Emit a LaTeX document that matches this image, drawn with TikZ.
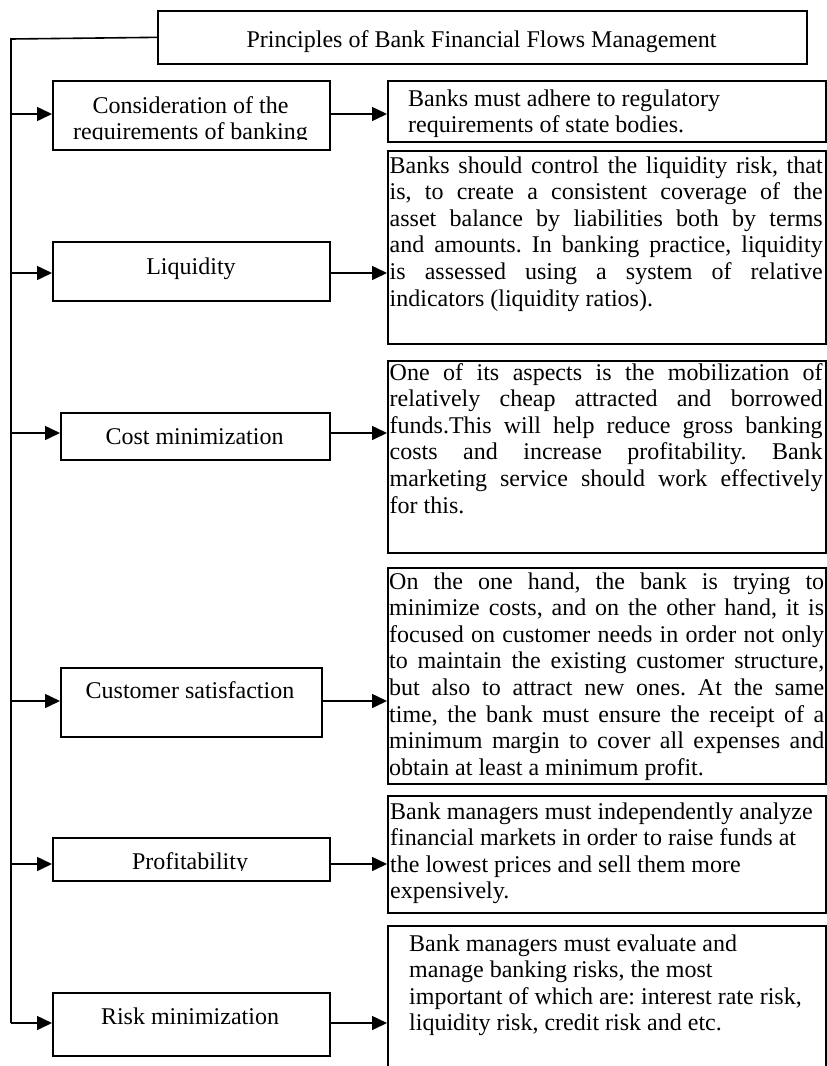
\documentclass[tikz,border=0pt]{standalone}
\usepackage{fontspec}
\setmainfont{Liberation Serif}
\usetikzlibrary{arrows.meta}
\newcommand\diagfont{\fontsize{24}{26.6}\selectfont\frenchspacing}
\begin{document}
\begin{tikzpicture}[x=1pt,y=-1pt,
  frame/.style={draw, line width=1.7pt, inner sep=0pt, anchor=north west},
  link/.style={line width=1.6pt, -{Triangle[length=15pt,width=14pt]}},
  rule/.style={line width=1.6pt},
  caption/.style={anchor=base, inner sep=0pt, font=\diagfont},
  para/.style={anchor=base west, inner sep=0pt, font=\diagfont},
]
\clip (0,0) rectangle (827,1066);

% heading
\node[frame, minimum width=649pt, minimum height=53pt] (title) at (157,10) {};
\node[caption] (titletext) at (481.5,47) {Principles of Bank Financial Flows Management};

% principle boxes on the left
\node[frame, minimum width=277pt, minimum height=69pt] (b1) at (52,80) {};
\node[frame, minimum width=277pt, minimum height=59pt] (b2) at (52,241) {};
\node[frame, minimum width=269pt, minimum height=47pt] (b3) at (60,412) {};
\node[frame, minimum width=261pt, minimum height=69pt] (b4) at (60,667) {};
\node[frame, minimum width=277pt, minimum height=43pt] (b5) at (52,837) {};
\node[frame, minimum width=277pt, minimum height=63pt] (b6) at (52,992) {};

\begin{scope}
  \clip (52,80) rectangle (329,139);
  \node[caption] (t1) at (190.5,113) {\parbox[t]{270pt}{\centering Consideration of the\\requirements of banking}};
\end{scope}
\node[caption] (t2) at (191,274) {Liquidity};
\node[caption] (t3) at (194.5,444) {Cost minimization};
\node[caption] (t4) at (190,698) {Customer satisfaction};
\begin{scope}
  \clip (52,837) rectangle (329,870);
  \node[caption] (t5) at (190,869) {Profitability};
\end{scope}
\node[caption] (t6) at (190,1024) {Risk minimization};

% explanation boxes on the right
\node[frame, minimum width=438pt, minimum height=61pt] (r1) at (387,80) {};
\node[frame, minimum width=438pt, minimum height=193pt] (r2) at (387,150) {};
\node[frame, minimum width=438pt, minimum height=192pt] (r3) at (387,360) {};
\node[frame, minimum width=438pt, minimum height=216pt] (r4) at (387,567) {};
\node[frame, minimum width=438pt, minimum height=117pt] (r5) at (387,795) {};
\node[frame, minimum width=438pt, minimum height=160pt] (r6) at (387,925) {};

\node[para] (d1) at (408,106) {\parbox[t]{410pt}{\raggedright
  Banks must adhere to regulatory\\
  requirements of state bodies.}};
\node[para] (d2) at (389.5,173) {\parbox[t]{433pt}{%
  Banks should control the liquidity risk, that\linebreak
  is, to create a consistent coverage of the\linebreak
  asset balance by liabilities both by terms\linebreak
  and amounts. In banking practice, liquidity\linebreak
  is assessed using a system of relative\linebreak
  indicators (liquidity ratios).}};
\node[para] (d3) at (389.5,380) {\parbox[t]{433pt}{%
  One of its aspects is the mobilization of\linebreak
  relatively cheap attracted and borrowed\linebreak
  funds.This will help reduce gross banking\linebreak
  costs and increase profitability. Bank\linebreak
  marketing service should work effectively\linebreak
  for this.}};
\node[para] (d4) at (389,589) {\parbox[t]{435pt}{%
  On the one hand, the bank is trying to\linebreak
  minimize costs, and on the other hand, it is\linebreak
  focused on customer needs in order not only\linebreak
  to maintain the existing customer structure,\linebreak
  but also to attract new ones. At the same\linebreak
  time, the bank must ensure the receipt of a\linebreak
  minimum margin to cover all expenses and\linebreak
  obtain at least a minimum profit.}};
\node[para] (d5) at (390,819) {\parbox[t]{433pt}{\raggedright
  Bank managers must independently analyze\\
  financial markets in order to raise funds at\\
  the lowest prices and sell them more\\
  expensively.}};
\node[para] (d6) at (409,951) {\parbox[t]{414pt}{\raggedright
  Bank managers must evaluate and\\
  manage banking risks, the most\\
  important of which are: interest rate risk,\\
  liquidity risk, credit risk and etc.}};

% spine and arrow rows
\coordinate (top) at (11,39);
\coordinate (a1) at (11,114);
\coordinate (a2) at (11,273);
\coordinate (a3) at (11,433);
\coordinate (a4) at (11,701);
\coordinate (a5) at (11,864);
\coordinate (a6) at (11,1023);

\draw[rule] (title.west) -- (top) -- (a6);
\foreach \i in {1,...,6}{
  \draw[link] (a\i) -- (a\i -| b\i.west);
  \draw[link] (a\i -| b\i.east) -- (a\i -| r\i.west);
}
\end{tikzpicture}
\end{document}
